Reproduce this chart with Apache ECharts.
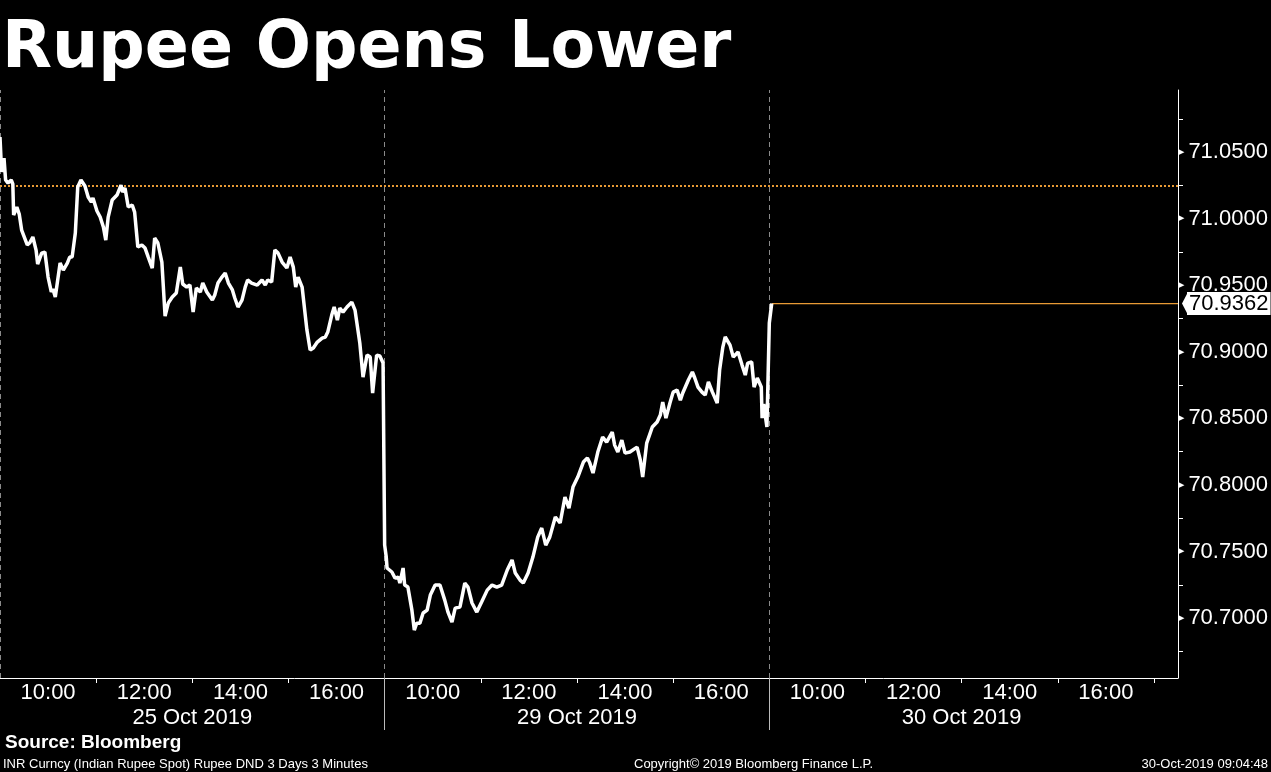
<!DOCTYPE html>
<html><head><meta charset="utf-8">
<script src="https://cdn.jsdelivr.net/npm/echarts@6/dist/echarts.min.js"></script>
<style>html,body{margin:0;padding:0;background:#000;}#c{width:1271px;height:772px;}</style>
</head><body><div id="c"></div>
<script>
// Minutes since 09:00 within each trading session, and INR spot rate
const day1Minutes = [0,2,5,7,10,14,16,17,21,24,27,34,37,41,45,47,52,56,60,64,66,69,75,79,84,87,90,94,97,101,106,110,114,116,121,125,129,132,135,140,146,151,153,156,160,165,168,172,177,181,185,190,193,197,202,206,210,215,220,225,228,233,237,241,245,250,253,258,265,268,272,277,281,285,290,293,297,302,306,309,314,321,327,331,334,339,343,347,352,358,362,366,369,372,377,383,387,391,396,402,406,409,414,417,421,424,428,433,439,443,449,453,458,462,465,470,474,478];
const day1Rates = [71.0613,71.0350,71.0455,71.0290,71.0267,71.0290,71.0260,71.0027,71.0087,71.0034,70.9914,70.9802,70.9817,70.9862,70.9764,70.9659,70.9741,70.9749,70.9561,70.9449,70.9471,70.9411,70.9666,70.9614,70.9666,70.9711,70.9711,70.9892,71.0237,71.0290,71.0245,71.0162,71.0125,71.0155,71.0057,71.0012,70.9937,70.9839,71.0012,71.0140,71.0177,71.0252,71.0200,71.0230,71.0087,71.0102,71.0049,70.9787,70.9802,70.9779,70.9711,70.9629,70.9854,70.9817,70.9674,70.9268,70.9366,70.9411,70.9441,70.9636,70.9509,70.9486,70.9501,70.9298,70.9479,70.9449,70.9516,70.9449,70.9388,70.9426,70.9516,70.9561,70.9591,70.9516,70.9464,70.9404,70.9336,70.9388,70.9486,70.9539,70.9516,70.9501,70.9539,70.9501,70.9539,70.9524,70.9764,70.9741,70.9674,70.9629,70.9711,70.9636,70.9486,70.9561,70.9486,70.9163,70.9013,70.9028,70.9073,70.9103,70.9111,70.9148,70.9276,70.9336,70.9238,70.9328,70.9298,70.9336,70.9373,70.9313,70.9066,70.8810,70.8975,70.8960,70.8690,70.8975,70.8968,70.8915];
const day2Minutes = [0,2,3,9,13,17,19,23,25,29,34,37,40,44,48,53,57,63,69,75,79,84,88,94,100,104,109,115,121,128,134,140,146,153,159,163,169,173,179,185,191,196,201,206,213,219,225,230,235,241,248,253,256,260,266,272,277,284,287,291,296,300,306,315,319,322,327,334,340,344,347,351,356,360,365,369,372,379,384,387,391,396,400,404,409,415,418,422,425,431,435,441,446,450,453,458,461,465,470,471,473,477];
const day2Rates = [70.7548,70.7458,70.7376,70.7346,70.7300,70.7308,70.7263,70.7376,70.7248,70.7233,70.7060,70.6910,70.6962,70.6962,70.7038,70.7060,70.7173,70.7248,70.7248,70.7135,70.7045,70.6970,70.7075,70.7083,70.7263,70.7233,70.7113,70.7045,70.7120,70.7210,70.7248,70.7233,70.7248,70.7361,70.7436,70.7338,70.7285,70.7263,70.7338,70.7458,70.7608,70.7676,70.7548,70.7608,70.7759,70.7714,70.7909,70.7826,70.7984,70.8059,70.8172,70.8202,70.8164,70.8089,70.8247,70.8360,70.8322,70.8397,70.8299,70.8247,70.8337,70.8239,70.8247,70.8284,70.8187,70.8059,70.8314,70.8435,70.8472,70.8525,70.8622,70.8502,70.8615,70.8697,70.8712,70.8637,70.8690,70.8788,70.8848,70.8803,70.8735,70.8697,70.8675,70.8773,70.8697,70.8615,70.8863,70.9035,70.9111,70.9050,70.8960,70.8998,70.8900,70.8825,70.8915,70.8923,70.8735,70.8803,70.8735,70.8502,70.8607,70.8435];
const day3Minutes = [0,3];
const day3Rates = [70.9216,70.9362];

const dayLabels = ['25 Oct 2019','29 Oct 2019','30 Oct 2019'];
const hourLabels = ['10:00','12:00','14:00','16:00'];
const yLabelValues = [70.70,70.75,70.80,70.85,70.90,70.95,71.00,71.05];
const yTickValues = [70.675,70.725,70.775,70.825,70.875,70.925,70.975,71.025,71.075];
const prevClose = 71.025;
const lastPrice = 70.9362;
const yMin = 70.655, yMax = 71.0966;

const SESSION = 480;            // 09:00 - 17:00
const AXIS_END = 2*SESSION + 510; // last day runs to 17:30

const days = [[day1Minutes,day1Rates],[day2Minutes,day2Rates],[day3Minutes,day3Rates]];
const data = [];
days.forEach((d,i)=>d[0].forEach((m,j)=>data.push([i*SESSION+m, d[1][j]])));
const lastTime = 2*SESSION + day3Minutes[day3Minutes.length-1];

const hourPos = [], tickPos = [];
for (let i=0;i<3;i++){
  hourLabels.forEach((h,k)=>hourPos.push(i*SESSION+60+120*k));
  for (let k=0;k<4;k++) tickPos.push(i*SESSION+120+120*k);
}
const datePos = dayLabels.map((d,i)=>i*SESSION+240);
const sepPos = [0, SESSION, 2*SESSION];

const FONT = 'Liberation Sans';
const ORANGE = '#e89a35';
const chart = echarts.init(document.getElementById('c'));
chart.setOption({
  backgroundColor:'#000',
  animation:false,
  title:{text:'Rupee Opens Lower', left:2, top:18, padding:0,
    textStyle:{color:'#fff', fontSize:65, fontWeight:'bold', fontFamily:'DejaVu Sans'}},
  grid:{left:0, right:93, top:90, bottom:94},
  xAxis:[{
    type:'value', min:0, max:AXIS_END, position:'bottom',
    axisLine:{show:true, onZero:false, lineStyle:{color:'#fff', width:1}},
    axisTick:{show:true, customValues:tickPos, length:5, lineStyle:{color:'#fff'}},
    axisLabel:{customValues:hourPos, margin:4, color:'#fff', fontSize:22, fontFamily:FONT,
      formatter:v=>hourLabels[Math.round(((v%SESSION)-60)/120)]},
    splitLine:{show:false}
  },{
    type:'value', min:0, max:AXIS_END, position:'bottom',
    axisLine:{show:false, onZero:false},
    axisTick:{show:true, customValues:[SESSION,2*SESSION], length:52, lineStyle:{color:'#bbb'}},
    axisLabel:{customValues:datePos, margin:29, color:'#fff', fontSize:22, fontFamily:FONT,
      formatter:v=>dayLabels[Math.round((v-240)/SESSION)]},
    splitLine:{show:false}
  }],
  yAxis:{
    type:'value', position:'right', min:yMin, max:yMax,
    axisLine:{show:true, onZero:false, lineStyle:{color:'#fff', width:1}},
    axisTick:{show:true, customValues:yTickValues, length:5, lineStyle:{color:'#fff'}},
    axisLabel:{customValues:yLabelValues, margin:1, color:'#fff',
      formatter:v=>'{t|\u25B6}{v|'+v.toFixed(4)+'}',
      rich:{t:{fontSize:7, fontFamily:'DejaVu Sans', color:'#fff', padding:[0,4,0,0]},
            v:{fontSize:22, fontFamily:FONT, color:'#fff'}}},
    splitLine:{show:false}
  },
  graphic:[
    {type:'text', left:5, top:733, style:{text:'Source: Bloomberg', fill:'#fff', font:'bold 19px "Liberation Sans"'}},
    {type:'text', left:3, top:758, style:{text:'INR Curncy (Indian Rupee Spot) Rupee DND 3 Days 3 Minutes', fill:'#fff', font:'13px "Liberation Sans"'}},
    {type:'text', left:634, top:758, style:{text:'Copyright\u00A9 2019 Bloomberg Finance L.P.', fill:'#fff', font:'13px "Liberation Sans"'}},
    {type:'text', right:3, top:758, style:{text:'30-Oct-2019 09:04:48', fill:'#fff', font:'13px "Liberation Sans"'}}
  ],
  series:[{
    name:'INR', type:'line', data:data, showSymbol:false, clip:false, z:5,
    color:'#fff', lineStyle:{color:'#fff', width:3.5},
    markLine:{
      silent:true, precision:4, symbol:['none','none'], label:{show:false},
      data:[
        ...sepPos.map(x=>({xAxis:x, lineStyle:{color:'#8a8a8a', type:[5,4], width:1}})),
        {yAxis:prevClose, lineStyle:{color:ORANGE, type:[2,2], width:2}}
      ]
    }
  },{
    name:'Last', type:'line', data:[[lastTime,lastPrice],[AXIS_END,lastPrice]],
    showSymbol:false, clip:false, z:4, silent:true,
    color:ORANGE, itemStyle:{color:ORANGE},
    lineStyle:{color:ORANGE, width:1.3},
    endLabel:{show:true, distance:9, formatter:lastPrice.toFixed(4),
      backgroundColor:'#fff', color:'#000', fontSize:22, fontFamily:FONT, padding:[1,2,0,2]},
    markPoint:{
      silent:true, symbol:'path://M0,12 L6,0 L6,24 Z', symbolSize:[6,23], symbolOffset:[7,0],
      itemStyle:{color:'#fff'}, label:{show:false},
      data:[{coord:[AXIS_END, lastPrice]}]
    }
  }]
});
</script></body></html>
